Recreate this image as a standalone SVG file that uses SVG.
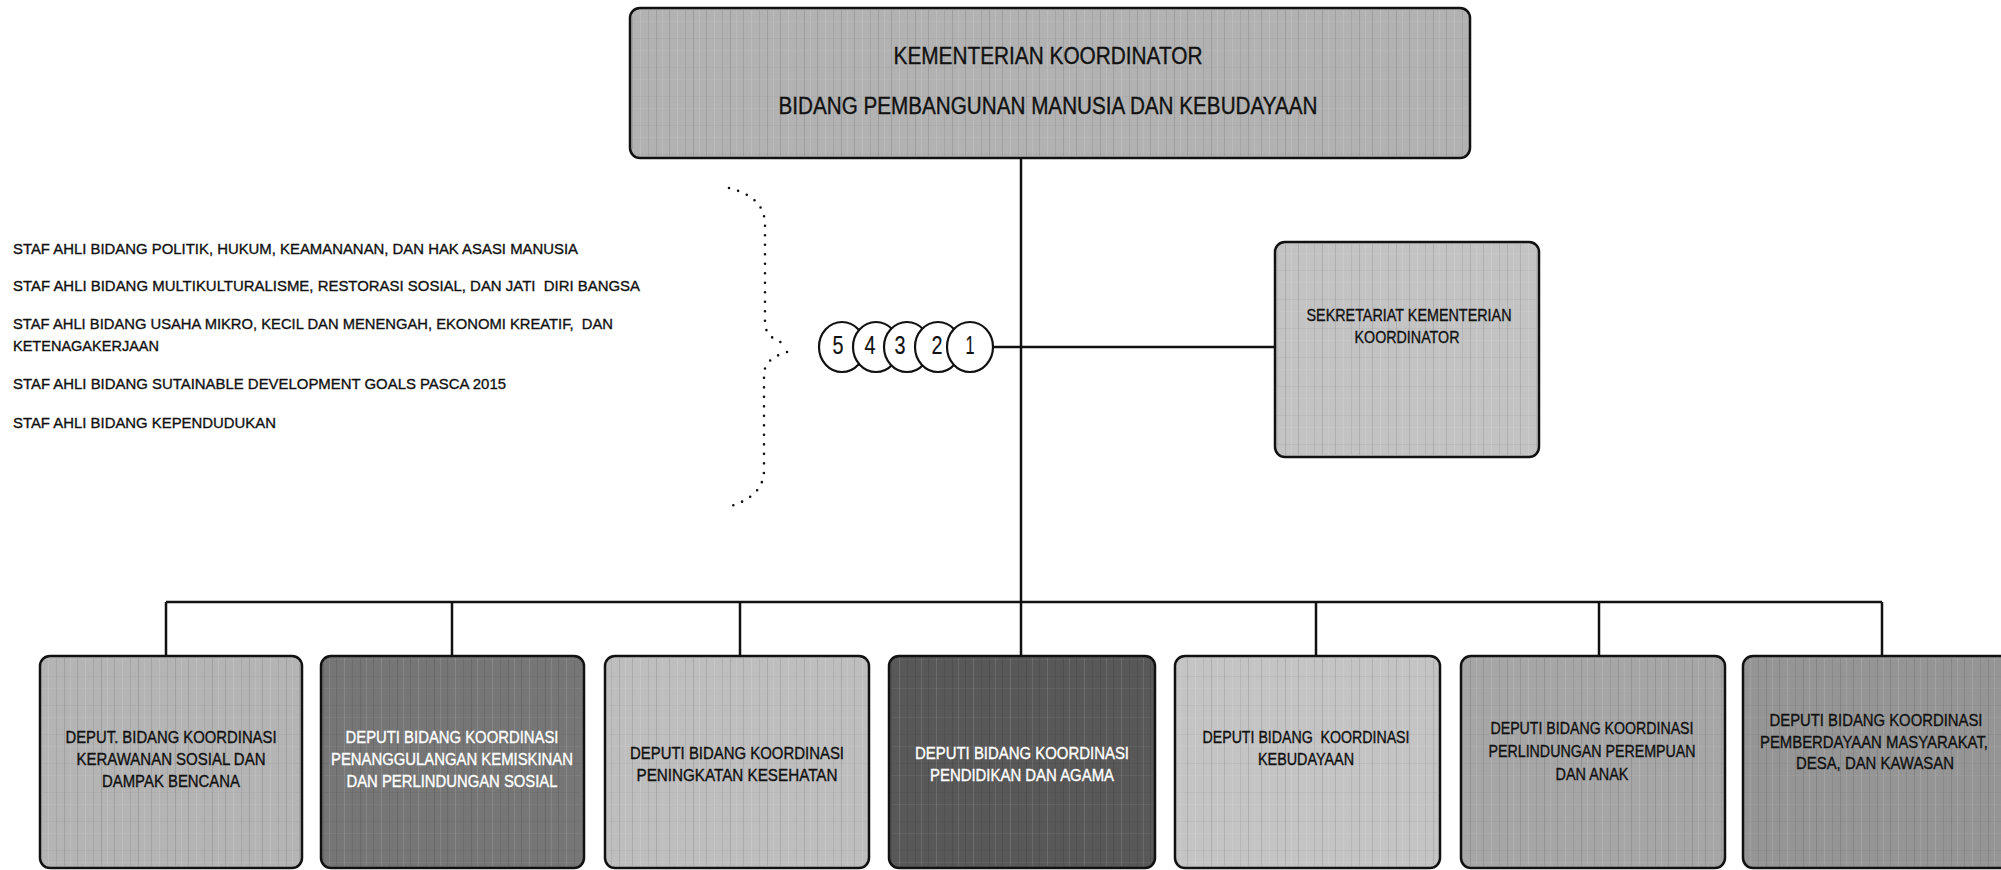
<svg xmlns="http://www.w3.org/2000/svg" width="2001" height="870" viewBox="0 0 2001 870">
<defs>
<pattern id="tex" patternUnits="userSpaceOnUse" width="37" height="29">
<rect x="3" y="0" width="1" height="29" fill="#000" opacity="0.10"/>
<rect x="11" y="0" width="1" height="29" fill="#fff" opacity="0.12"/>
<rect x="19" y="0" width="1" height="29" fill="#000" opacity="0.07"/>
<rect x="27" y="0" width="1" height="29" fill="#000" opacity="0.11"/>
<rect x="33" y="0" width="1" height="29" fill="#fff" opacity="0.10"/>
<rect x="0" y="9" width="37" height="1" fill="#000" opacity="0.04"/>
<rect x="0" y="21" width="37" height="1" fill="#fff" opacity="0.05"/>
</pattern>
<style>
.box{stroke:#111;stroke-width:2.5}
.tx{fill:url(#tex)}
.t{font-family:"Liberation Sans",Arial,sans-serif;fill:#111;stroke:#111;stroke-width:0.35}
.c{text-anchor:middle}
.w{fill:#fff;stroke:#fff}
.lbl{font-size:16px}
.staff{font-size:15.5px}
.ln{stroke:#111;stroke-width:2.5;fill:none}
.dot{stroke:#111;stroke-width:2.6;fill:none;stroke-linecap:round;stroke-dasharray:0 9.5}
.circ{fill:#fff;stroke:#111;stroke-width:2.2}
.num{font-size:25px;stroke-width:0.2}
</style>
</defs>
<rect width="2001" height="870" fill="#fff"/>

<g id="connectors">
<line class="ln" x1="1021" y1="158" x2="1021" y2="656"/>
<line class="ln" x1="166" y1="602" x2="1882" y2="602"/>
<line class="ln" x1="166" y1="602" x2="166" y2="656"/>
<line class="ln" x1="452" y1="602" x2="452" y2="656"/>
<line class="ln" x1="740" y1="602" x2="740" y2="656"/>
<line class="ln" x1="1316" y1="602" x2="1316" y2="656"/>
<line class="ln" x1="1599" y1="602" x2="1599" y2="656"/>
<line class="ln" x1="1882" y1="602" x2="1882" y2="656"/>
<line class="ln" x1="993" y1="347" x2="1275" y2="347"/>
</g>

<g id="top">
<rect class="box" x="630" y="8" width="840" height="150" rx="10" fill="#b2b2b2"/>
<rect class="tx" x="632" y="10" width="836" height="146" rx="9"/>
<text class="t c" x="1048" y="63.5" font-size="23" textLength="309" lengthAdjust="spacingAndGlyphs">KEMENTERIAN KOORDINATOR</text>
<text class="t c" x="1048" y="113.5" font-size="23" textLength="539" lengthAdjust="spacingAndGlyphs">BIDANG PEMBANGUNAN MANUSIA DAN KEBUDAYAAN</text>
</g>

<g id="staff">
<text class="t staff" x="13" y="254" textLength="565" lengthAdjust="spacingAndGlyphs">STAF AHLI BIDANG POLITIK, HUKUM, KEAMANANAN, DAN HAK ASASI MANUSIA</text>
<text class="t staff" x="13" y="291" textLength="627" lengthAdjust="spacingAndGlyphs">STAF AHLI BIDANG MULTIKULTURALISME, RESTORASI SOSIAL, DAN JATI&#160; DIRI BANGSA</text>
<text class="t staff" x="13" y="329" textLength="600" lengthAdjust="spacingAndGlyphs">STAF AHLI BIDANG USAHA MIKRO, KECIL DAN MENENGAH, EKONOMI KREATIF,&#160; DAN</text>
<text class="t staff" x="13" y="351" textLength="146" lengthAdjust="spacingAndGlyphs">KETENAGAKERJAAN</text>
<text class="t staff" x="13" y="389" textLength="493" lengthAdjust="spacingAndGlyphs">STAF AHLI BIDANG SUTAINABLE DEVELOPMENT GOALS PASCA 2015</text>
<text class="t staff" x="13" y="428" textLength="263" lengthAdjust="spacingAndGlyphs">STAF AHLI BIDANG KEPENDUDUKAN</text>
</g>

<g id="brace">
<path class="dot" d="M729,188 C752,194 765,205 765,225 L765,322 C765,334 772,339 785,344"/>
<path class="dot" d="M787,352 C774,356 764,362 764,375 L764,470 C764,488 752,500 728,507"/>
</g>

<g id="advisors">
<ellipse class="circ" cx="842" cy="347" rx="23" ry="25"/>
<ellipse class="circ" cx="876" cy="347" rx="23" ry="25"/>
<ellipse class="circ" cx="907" cy="347" rx="23" ry="25"/>
<ellipse class="circ" cx="938" cy="347" rx="23" ry="25"/>
<ellipse class="circ" cx="970" cy="347" rx="23" ry="25"/>
<text class="t c num" x="838" y="354" textLength="11" lengthAdjust="spacingAndGlyphs">5</text>
<text class="t c num" x="870" y="354" textLength="11" lengthAdjust="spacingAndGlyphs">4</text>
<text class="t c num" x="900" y="354" textLength="11" lengthAdjust="spacingAndGlyphs">3</text>
<text class="t c num" x="937" y="354" textLength="11" lengthAdjust="spacingAndGlyphs">2</text>
<text class="t c num" x="970" y="354" textLength="9" lengthAdjust="spacingAndGlyphs">1</text>
</g>

<g id="sekretariat">
<rect class="box" x="1275" y="242" width="264" height="215" rx="10" fill="#c3c3c3"/>
<rect class="tx" x="1277" y="244" width="260" height="211" rx="9"/>
<text class="t c" x="1409" y="321" font-size="17" textLength="205" lengthAdjust="spacingAndGlyphs">SEKRETARIAT KEMENTERIAN</text>
<text class="t c" x="1407" y="343" font-size="17" textLength="105" lengthAdjust="spacingAndGlyphs">KOORDINATOR</text>
</g>

<g id="deputi1">
<rect class="box" x="40" y="656" width="262" height="212" rx="10" fill="#b4b4b4"/>
<rect class="tx" x="42" y="658" width="258" height="208" rx="9"/>
<text class="t c lbl" x="171" y="743" textLength="211" lengthAdjust="spacingAndGlyphs">DEPUT. BIDANG KOORDINASI</text>
<text class="t c lbl" x="171" y="765" textLength="189" lengthAdjust="spacingAndGlyphs">KERAWANAN SOSIAL DAN</text>
<text class="t c lbl" x="171" y="787" textLength="138" lengthAdjust="spacingAndGlyphs">DAMPAK BENCANA</text>
</g>

<g id="deputi2">
<rect class="box" x="321" y="656" width="263" height="212" rx="10" fill="#767676"/>
<rect class="tx" x="323" y="658" width="259" height="208" rx="9"/>
<text class="t c lbl w" x="452" y="743" textLength="213" lengthAdjust="spacingAndGlyphs">DEPUTI BIDANG KOORDINASI</text>
<text class="t c lbl w" x="452" y="765" textLength="242" lengthAdjust="spacingAndGlyphs">PENANGGULANGAN KEMISKINAN</text>
<text class="t c lbl w" x="452" y="787" textLength="211" lengthAdjust="spacingAndGlyphs">DAN PERLINDUNGAN SOSIAL</text>
</g>

<g id="deputi3">
<rect class="box" x="605" y="656" width="264" height="212" rx="10" fill="#bebebe"/>
<rect class="tx" x="607" y="658" width="260" height="208" rx="9"/>
<text class="t c lbl" x="737" y="759" textLength="214" lengthAdjust="spacingAndGlyphs">DEPUTI BIDANG KOORDINASI</text>
<text class="t c lbl" x="737" y="781" textLength="201" lengthAdjust="spacingAndGlyphs">PENINGKATAN KESEHATAN</text>
</g>

<g id="deputi4">
<rect class="box" x="889" y="656" width="266" height="212" rx="10" fill="#585858"/>
<rect class="tx" x="891" y="658" width="262" height="208" rx="9"/>
<text class="t c lbl w" x="1022" y="759" textLength="214" lengthAdjust="spacingAndGlyphs">DEPUTI BIDANG KOORDINASI</text>
<text class="t c lbl w" x="1022" y="781" textLength="184" lengthAdjust="spacingAndGlyphs">PENDIDIKAN DAN AGAMA</text>
</g>

<g id="deputi5">
<rect class="box" x="1175" y="656" width="265" height="212" rx="10" fill="#c4c4c4"/>
<rect class="tx" x="1177" y="658" width="261" height="208" rx="9"/>
<text class="t c lbl" x="1306" y="743" textLength="207" lengthAdjust="spacingAndGlyphs">DEPUTI BIDANG&#160; KOORDINASI</text>
<text class="t c lbl" x="1306" y="765" textLength="96" lengthAdjust="spacingAndGlyphs">KEBUDAYAAN</text>
</g>

<g id="deputi6">
<rect class="box" x="1461" y="656" width="264" height="212" rx="10" fill="#a6a6a6"/>
<rect class="tx" x="1463" y="658" width="260" height="208" rx="9"/>
<text class="t c lbl" x="1592" y="734" textLength="203" lengthAdjust="spacingAndGlyphs">DEPUTI BIDANG KOORDINASI</text>
<text class="t c lbl" x="1592" y="757" textLength="207" lengthAdjust="spacingAndGlyphs">PERLINDUNGAN PEREMPUAN</text>
<text class="t c lbl" x="1592" y="780" textLength="73" lengthAdjust="spacingAndGlyphs">DAN ANAK</text>
</g>

<g id="deputi7">
<rect class="box" x="1743" y="656" width="268" height="212" rx="10" fill="#959595"/>
<rect class="tx" x="1745" y="658" width="264" height="208" rx="9"/>
<text class="t c lbl" x="1876" y="726" textLength="213" lengthAdjust="spacingAndGlyphs">DEPUTI BIDANG KOORDINASI</text>
<text class="t c lbl" x="1874" y="748" textLength="228" lengthAdjust="spacingAndGlyphs">PEMBERDAYAAN MASYARAKAT,</text>
<text class="t c lbl" x="1875" y="769" textLength="158" lengthAdjust="spacingAndGlyphs">DESA, DAN KAWASAN</text>
</g>
</svg>
